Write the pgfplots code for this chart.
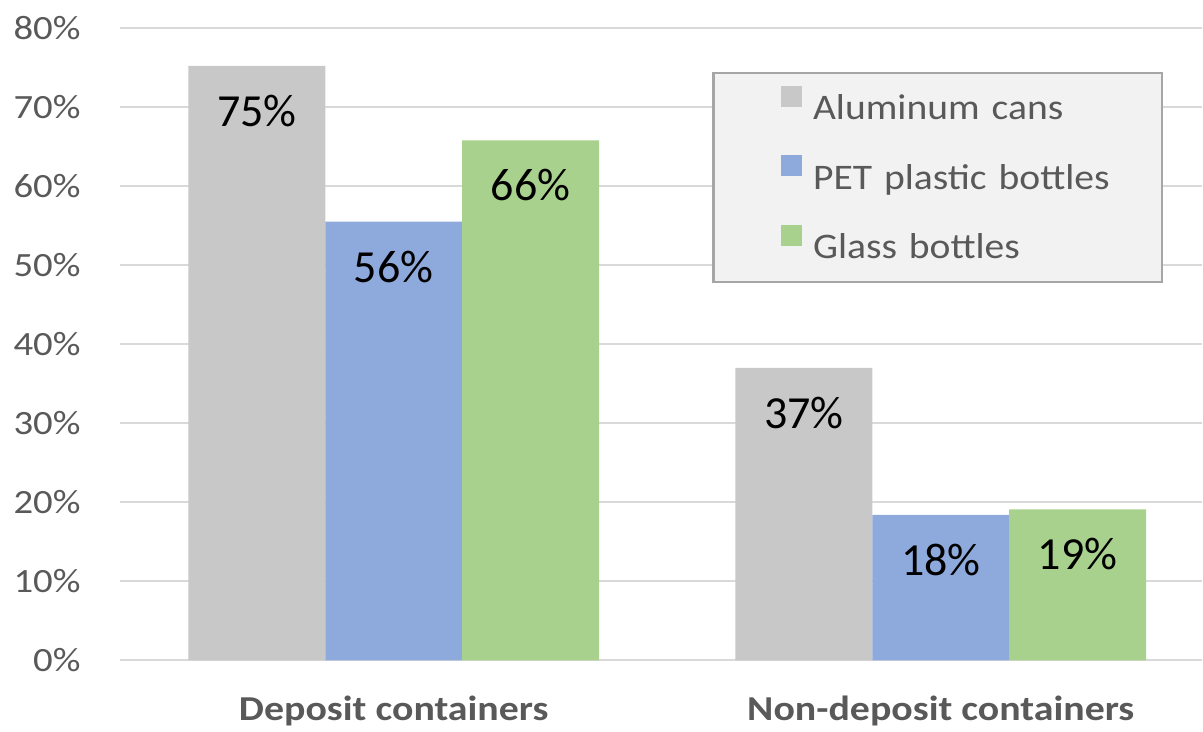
\documentclass[border=0pt]{standalone}
\usepackage{fontspec}
\setmainfont{Carlito}
\newfontfamily\widefont[FakeStretch=1.14]{Carlito}
\newfontfamily\legfont[FakeStretch=1.1]{Carlito}
\usepackage{pgfplots}
\pgfplotsset{compat=1.18}

\definecolor{alu}{HTML}{C8C8C8}
\definecolor{pet}{HTML}{8EA9DB}
\definecolor{glass}{HTML}{A9D18E}
\definecolor{txt}{HTML}{595959}
\definecolor{gridc}{HTML}{D9D9D9}
\definecolor{legfill}{HTML}{F2F2F2}
\definecolor{legdraw}{HTML}{A6A6A6}

\pgfplotsset{
  sq/.style={legend image code/.code={%
    \path[draw=none, fill=none] (0bp,5.8bp) -- (19.75bp,5.8bp);
    \fill[##1] (9.25bp,0.55bp) rectangle (19.75bp,11.05bp);}},
}

\begin{document}
\begin{tikzpicture}
\begin{axis}[
  name=ax,
  scale only axis,
  width=541.5bp, height=316.5bp,
  ybar=0pt, bar width=68.5bp,
  xmin=-0.5005, xmax=1.4776,
  ymin=0, ymax=80,
  xtick={0,1},
  xticklabels={Deposit containers, Non-deposit containers},
  ytick={0,10,...,80},
  yticklabels={0\%,10\%,20\%,30\%,40\%,50\%,60\%,70\%,80\%},
  /pgf/number format/assume math mode=true,
  ymajorgrids,
  grid style={gridc, line width=1bp},
  axis line style={draw=none},
  major tick length=0pt,
  tick label style={font=\widefont\fontsize{17bp}{20bp}\selectfont, text=txt},
  yticklabel style={anchor=east, inner sep=0pt, xshift=-19.5bp},
  xticklabel style={anchor=north, inner sep=0pt, yshift=-17.5bp,
    font=\widefont\bfseries\fontsize{17.5bp}{21bp}\selectfont},
  nodes near coords={\pgfmathprintnumber[fixed,precision=0]{\pgfplotspointmeta}\%},
  every node near coord/.append style={anchor=center, yshift=-22.5bp, inner sep=0pt,
    text=black, font=\fontsize{23bp}{27bp}\selectfont},
  legend cell align=left,
  legend style={
    at={(0.5476,0.9305)}, anchor=north west,
    fill=legfill, draw=legdraw, line width=1.2bp,
    inner xsep=24.5bp, inner ysep=0pt,
    row sep=0pt, column sep=5.5bp,
    font=\legfont\fontsize{18bp}{21bp}\selectfont, text=txt,
    nodes={inner sep=0pt, text height=23.3bp, text depth=11.5bp},
    /tikz/every even column/.append style={text width=150bp},
  },
]
\addplot[fill=alu, draw=none, sq] coordinates {(0,75.2) (1,37.0)};
\addplot[fill=pet, draw=none, sq] coordinates {(0,55.5) (1,18.4)};
\addplot[fill=glass, draw=none, sq] coordinates {(0,65.8) (1,19.1)};
\legend{Aluminum cans, PET plastic bottles, Glass bottles}
\end{axis}
\path (ax.south west) ++(-60bp,-35.5bp) rectangle ++(601.5bp,366bp);
\end{tikzpicture}
\end{document}
